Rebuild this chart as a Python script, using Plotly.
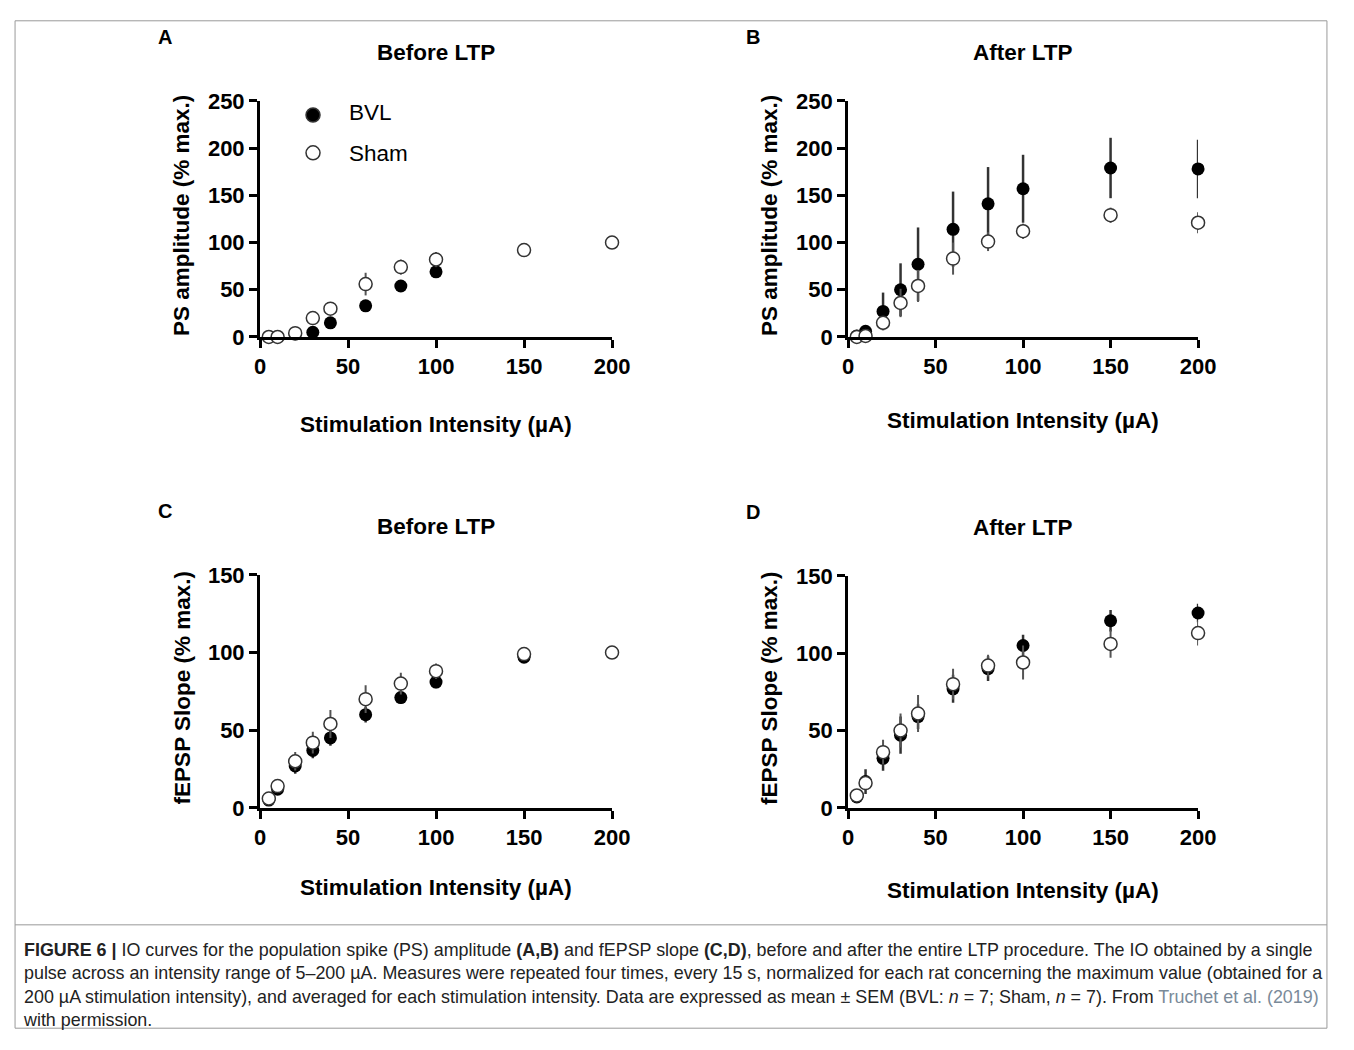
import plotly.graph_objects as go

# stimulation intensities (uA)
x_vals = [5, 10, 20, 30, 40, 60, 80, 100, 150, 200]

# A: PS amplitude before LTP
ps_pre_bvl = [0, 0, 3, 5, 15, 33, 54, 69, 92, 100]
ps_pre_bvl_err = [0, 0, 1, 3, 4, 5, 5, 4, 3, 0]
ps_pre_sham = [0, 0, 4, 20, 30, 56, 74, 82, 92, 100]
ps_pre_sham_err = [0, 0, 1, 4, 5, 12, 8, 8, 3, 0]

# B: PS amplitude after LTP
ps_post_bvl = [1, 6, 27, 50, 77, 114, 141, 157, 179, 178]
ps_post_bvl_err = [1, 2, 20, 28, 39, 40, 39, 36, 32, 31]
ps_post_sham = [0, 1, 15, 36, 54, 83, 101, 112, 129, 121]
ps_post_sham_err = [0, 1, 5, 15, 17, 17, 10, 8, 8, 11]

# C: fEPSP slope before LTP
sl_pre_bvl = [5, 12, 27, 37, 45, 60, 71, 81, 97, 100]
sl_pre_bvl_err = [2, 3, 5, 5, 5, 5, 4, 4, 2, 0]
sl_pre_sham = [6, 14, 30, 42, 54, 70, 80, 88, 99, 100]
sl_pre_sham_err = [2, 3, 6, 7, 9, 9, 7, 5, 2, 0]

# D: fEPSP slope after LTP
sl_post_bvl = [7, 17, 32, 47, 59, 77, 90, 105, 121, 126]
sl_post_bvl_err = [3, 8, 8, 12, 8, 9, 8, 7, 7, 6]
sl_post_sham = [8, 16, 36, 50, 61, 80, 92, 94, 106, 113]
sl_post_sham_err = [2, 4, 8, 11, 12, 10, 7, 11, 9, 8]

W, H = 1338, 1034
FONT = "Liberation Sans"


# map a position in the reference picture to paper coords (page is a bit shifted/scaled)
def px(x):
    return ((x - 14) / 0.982) / W


def py(y):
    return 1 - ((y - 20) / 0.976) / H


def clamp(v):
    return min(max(v, 0.0008), 0.9992)


panels = [
    ("A", "Before LTP", "PS amplitude (% max.)", ps_pre_bvl, ps_pre_bvl_err, ps_pre_sham, ps_pre_sham_err,
     (260, 612), (101, 337), 250, 425),
    ("B", "After LTP", "PS amplitude (% max.)", ps_post_bvl, ps_post_bvl_err, ps_post_sham, ps_post_sham_err,
     (848, 1198), (101, 337), 250, 421),
    ("C", "Before LTP", "fEPSP Slope (% max.)", sl_pre_bvl, sl_pre_bvl_err, sl_pre_sham, sl_pre_sham_err,
     (260, 612), (575, 808), 150, 888),
    ("D", "After LTP", "fEPSP Slope (% max.)", sl_post_bvl, sl_post_bvl_err, sl_post_sham, sl_post_sham_err,
     (848, 1198), (576, 808), 150, 891),
]

fig = go.Figure()
annotations = []
tickfont = dict(family=FONT, size=22, color="black", weight="bold")
big = dict(family=FONT, size=22.5, color="black", weight="bold")


def note(text, x, y, font, **kw):
    d = dict(text=text, x=x, y=y, xref="paper", yref="paper", showarrow=False,
             xanchor="center", yanchor="middle", font=font)
    d.update(kw)
    annotations.append(d)


for i, (letter, title, ylab, bvl, be, sham, se, xp, yp, ymax, xt_y) in enumerate(panels):
    n = "" if i == 0 else str(i + 1)
    xa, ya = "x" + n, "y" + n
    fig.add_trace(go.Scatter(
        x=x_vals, y=bvl, mode="markers", xaxis=xa, yaxis=ya, cliponaxis=False,
        error_y=dict(type="data", array=be, color="#333", thickness=2.5, width=0),
        marker=dict(color="black", size=13), showlegend=False))
    fig.add_trace(go.Scatter(
        x=x_vals, y=sham, mode="markers", xaxis=xa, yaxis=ya, cliponaxis=False,
        error_y=dict(type="data", array=se, color="#555", thickness=2, width=0),
        marker=dict(color="white", size=13, line=dict(color="#333", width=1.5)), showlegend=False))
    ax = dict(domain=[px(xp[0]), px(xp[1])], anchor=ya, range=[0, 200], tickvals=[0, 50, 100, 150, 200],
              showline=True, linecolor="black", linewidth=3, ticks="outside", tickwidth=3,
              ticklen=8, tickcolor="black", showgrid=False, zeroline=False, tickfont=tickfont)
    ay = dict(domain=[py(yp[1]), py(yp[0])], anchor=xa, range=[0, ymax], dtick=50,
              showline=True, linecolor="black", linewidth=3, ticks="outside", tickwidth=3,
              ticklen=8, tickcolor="black", showgrid=False, zeroline=False, tickfont=tickfont)
    fig.update_layout(**{"xaxis" + n: ax, "yaxis" + n: ay})
    cx = px((xp[0] + xp[1]) / 2)
    note(title, cx, py(yp[0] - 48), big)
    note(letter, px(xp[0] - 95), py(yp[0] - 64), dict(family=FONT, size=20, color="black", weight="bold"))
    note("Stimulation Intensity (µA)", cx, py(xt_y), big)
    note(ylab, px(xp[0] - 78), py((yp[0] + yp[1]) / 2 - 3), big, textangle=-90)

# legend in panel A
fig.add_trace(go.Scatter(x=[0.5, 0.5], y=[0.85, 0.15], mode="markers", xaxis="x5", yaxis="y5",
                         marker=dict(color=["black", "white"], size=14, line=dict(color="#333", width=1.5)),
                         showlegend=False, hoverinfo="skip"))
fig.update_layout(xaxis5=dict(domain=[px(300), px(326)], visible=False, range=[0, 1]),
                  yaxis5=dict(domain=[py(161), py(107)], visible=False, range=[0, 1]))
leg_font = dict(family=FONT, size=22.5, color="black")
note("BVL", px(347), py(113), leg_font, xanchor="left")
note("Sham", px(347), py(154), leg_font, xanchor="left")

caption = ("<b>FIGURE 6 |</b> IO curves for the population spike (PS) amplitude <b>(A,B)</b> and fEPSP slope "
           "<b>(C,D)</b>, before and after the entire LTP procedure. The IO obtained by a single<br>"
           "pulse across an intensity range of 5–200 µA. Measures were repeated four times, every 15 s, "
           "normalized for each rat concerning the maximum value (obtained for a<br>"
           "200 µA stimulation intensity), and averaged for each stimulation intensity. Data are expressed "
           "as mean ± SEM (BVL: <i>n</i> = 7; Sham, <i>n</i> = 7). From "
           "<span style='color:#7a8a99'>Truchet et al. (2019)</span><br>with permission.")
note(caption, px(21), py(938), dict(family=FONT, size=17.9, color="#222"),
     xanchor="left", yanchor="top", align="left")

shapes = [
    dict(type="rect", xref="paper", yref="paper", x0=clamp(px(7)), x1=clamp(px(1347)),
         y0=clamp(py(1043)), y1=clamp(py(7)), line=dict(color="#999", width=1)),
    dict(type="line", xref="paper", yref="paper", x0=clamp(px(7)), x1=clamp(px(1347)),
         y0=py(925), y1=py(925), line=dict(color="#999", width=1)),
]

fig.update_layout(width=W, height=H, margin=dict(l=0, r=0, t=0, b=0),
                  plot_bgcolor="white", paper_bgcolor="white",
                  annotations=annotations, shapes=shapes)
fig.write_html("out.html")
